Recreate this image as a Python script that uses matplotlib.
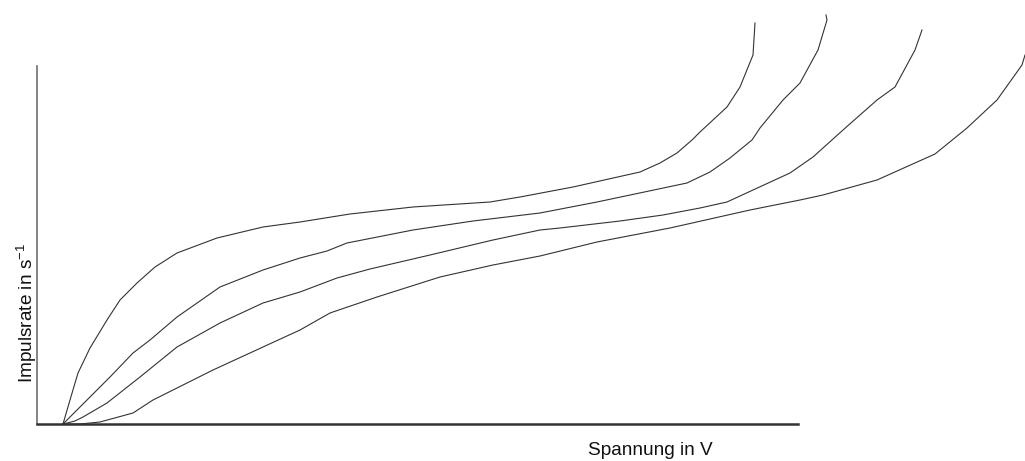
import matplotlib
matplotlib.use('Agg')
import matplotlib.pyplot as plt

plt.rcParams['font.family'] = 'Liberation Sans'
plt.rcParams['mathtext.fontset'] = 'custom'
plt.rcParams['mathtext.rm'] = 'Liberation Sans'
plt.rcParams['mathtext.it'] = 'Liberation Sans'

# Zaehlrohr-Kennlinien (arbitrary units)
spannung_1 = [26, 33, 41, 53, 70, 83, 100, 118, 140, 180, 226, 263, 313, 376, 453, 483, 536, 603, 623, 640, 655, 663, 690, 703, 716, 718]
rate_1 = [0, 24, 51, 76, 104, 124, 141, 157, 171, 186, 197, 202, 210, 217, 222, 227, 237, 252, 261, 271, 284, 292, 317, 337, 369, 401]

spannung_2 = [26, 35, 43, 58, 73, 96, 113, 140, 183, 226, 263, 290, 310, 376, 436, 503, 560, 650, 673, 693, 715, 723, 746, 763, 781, 790, 789]
rate_2 = [0, 9, 17, 32, 47, 71, 84, 107, 137, 154, 166, 173, 181, 194, 203, 211, 222, 241, 252, 266, 284, 296, 324, 341, 374, 404, 409]

spannung_3 = [26, 38, 46, 70, 103, 140, 183, 226, 263, 300, 333, 393, 456, 503, 523, 583, 626, 663, 690, 716, 753, 776, 806, 840, 858, 878, 885]
rate_3 = [0, 3, 7, 21, 47, 77, 101, 121, 132, 146, 155, 169, 184, 194, 196, 203, 209, 216, 222, 234, 251, 267, 294, 324, 337, 374, 394]

spannung_4 = [26, 43, 63, 96, 116, 176, 226, 263, 293, 340, 403, 456, 503, 560, 633, 713, 763, 786, 840, 898, 930, 960, 985, 988]
rate_4 = [0, 0, 2, 11, 24, 54, 77, 94, 111, 127, 147, 159, 168, 182, 196, 214, 224, 229, 244, 270, 296, 324, 359, 369]

fig = plt.figure(figsize=(10.25, 4.61), dpi=100)
ax = fig.add_axes([37 / 1025, 37 / 461, 761 / 1025, 358 / 461])

for xs, ys in [(spannung_1, rate_1), (spannung_2, rate_2),
               (spannung_3, rate_3), (spannung_4, rate_4)]:
    ax.plot(xs, ys, color='#333333', lw=0.8, clip_on=False, zorder=3)

ax.set_xlim(0, 761)
ax.set_ylim(0, 358)
ax.set_xticks([])
ax.set_yticks([])
ax.spines['top'].set_visible(False)
ax.spines['right'].set_visible(False)
ax.spines['left'].set_color('#707070')
ax.spines['left'].set_linewidth(1.2)
ax.spines['bottom'].set_color('#333333')
ax.spines['bottom'].set_linewidth(1.8)

fig.text(650 / 1025, 1 - 450 / 461, 'Spannung in V', fontsize=13.7,
         ha='center', va='center', color='#111111')
fig.text(27 / 1025, 1 - 313 / 461, r'Impulsrate in s$^{-1}$', fontsize=13.7,
         rotation=90, ha='center', va='center', color='#111111')

fig.savefig('out.png', dpi=100, facecolor='white')
